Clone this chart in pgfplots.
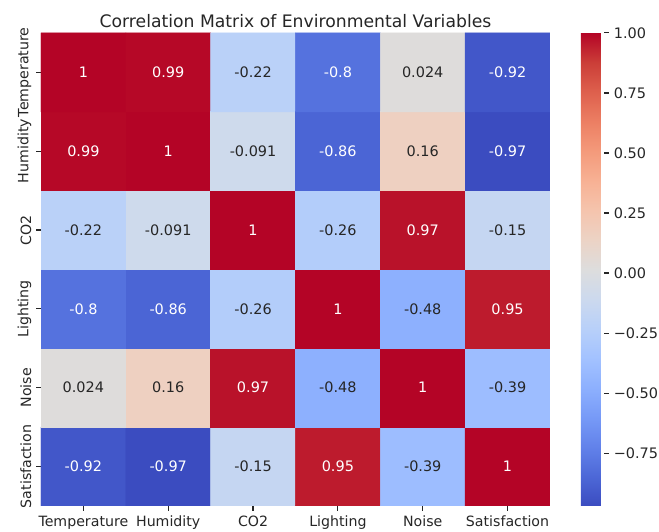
\documentclass[border=0pt]{standalone}
\usepackage{pgfplots}
\pgfplotsset{compat=1.18}
\usepackage{fontspec}
\setmainfont{DejaVu Sans}
\definecolor{darktext}{RGB}{38,38,38}
\pgfplotsset{colormap={coolwarm}{
 rgb255=(59,76,192) rgb255=(77,104,215) rgb255=(98,130,234) rgb255=(119,154,247)
 rgb255=(141,176,254) rgb255=(163,194,255) rgb255=(184,208,249) rgb255=(204,217,238)
 rgb255=(221,221,221) rgb255=(236,211,197) rgb255=(245,196,173) rgb255=(247,177,148)
 rgb255=(244,154,123) rgb255=(236,127,99) rgb255=(222,96,77) rgb255=(203,62,56)
 rgb255=(180,4,38)}}
\begin{document}
\begin{tikzpicture}
\useasboundingbox (0,0) rectangle (474.5pt,383pt);
\begin{axis}[
  at={(29.5pt,18.7pt)}, anchor=south west,
  scale only axis, width=366.5pt, height=340.6pt,
  xmin=-0.5, xmax=5.5, ymin=-0.5, ymax=5.5,
  colormap name=coolwarm,
  point meta min=-0.97, point meta max=1,
  axis line style={draw=none},
  xtick={0,1,2,3,4,5}, ytick={0,1,2,3,4,5},
  xticklabels={Temperature,Humidity,CO2,Lighting,Noise,Satisfaction},
  yticklabels={Satisfaction,Noise,Lighting,CO2,Humidity,Temperature},
  xtick pos=bottom, ytick pos=left,
  tick align=outside, major tick length=3.5pt,
  tick style={darktext, line width=0.8pt},
  ticklabel style={font=\fontsize{10.2}{12}\selectfont, text=darktext},
  yticklabel style={rotate=90, anchor=south},
  xticklabel style={anchor=north},
  title={Correlation Matrix of Environmental Variables},
  title style={font=\fontsize{12.4}{14}\selectfont, text=darktext, at={(0.5,1)}, anchor=south, yshift=-6pt},
  colorbar right,
  colorbar style={
    scale only axis,
    width=16.6pt,
    at={(parent axis.north east)}, anchor=north west, xshift=13.8pt,
    ytick={-0.75,-0.5,-0.25,0,0.25,0.5,0.75,1},
    yticklabels={−0.75,−0.50,−0.25,0.00,0.25,0.50,0.75,1.00},
    axis line style={draw=none},
    tick align=outside, ytick pos=right, yticklabel pos=right, major tick length=3.5pt,
    tick style={darktext, line width=0.8pt},
    yticklabel style={font=\fontsize{10.4}{12}\selectfont, text=darktext},
  },
]
\addplot[matrix plot*, mesh/cols=6, point meta=explicit] table[meta=v] {
x y v
0 0 -0.92
1 0 -0.97
2 0 -0.15
3 0 0.95
4 0 -0.39
5 0 1
0 1 0.024
1 1 0.16
2 1 0.97
3 1 -0.48
4 1 1
5 1 -0.39
0 2 -0.8
1 2 -0.86
2 2 -0.26
3 2 1
4 2 -0.48
5 2 0.95
0 3 -0.22
1 3 -0.091
2 3 1
3 3 -0.26
4 3 0.97
5 3 -0.15
0 4 0.99
1 4 1
2 4 -0.091
3 4 -0.86
4 4 0.16
5 4 -0.97
0 5 1
1 5 0.99
2 5 -0.22
3 5 -0.8
4 5 0.024
5 5 -0.92
};
% white annotations
\addplot[only marks, mark=*, mark size=0pt, mark options={draw=none,fill=none},
  point meta=explicit symbolic, nodes near coords,
  every node near coord/.append style={anchor=center, text=white, font=\fontsize{10.4}{12}\selectfont}]
  table[meta=lab] {
x y lab
0 5 1
1 5 0.99
3 5 -0.8
5 5 -0.92
0 4 0.99
1 4 1
3 4 -0.86
5 4 -0.97
2 3 1
4 3 0.97
0 2 -0.8
1 2 -0.86
3 2 1
5 2 0.95
2 1 0.97
4 1 1
0 0 -0.92
1 0 -0.97
3 0 0.95
5 0 1
};
% dark annotations
\addplot[only marks, mark=*, mark size=0pt, mark options={draw=none,fill=none},
  point meta=explicit symbolic, nodes near coords,
  every node near coord/.append style={anchor=center, text=darktext, font=\fontsize{10.4}{12}\selectfont}]
  table[meta=lab] {
x y lab
2 5 -0.22
4 5 0.024
2 4 -0.091
4 4 0.16
0 3 -0.22
1 3 -0.091
3 3 -0.26
5 3 -0.15
2 2 -0.26
4 2 -0.48
0 1 0.024
1 1 0.16
3 1 -0.48
5 1 -0.39
2 0 -0.15
4 0 -0.39
};
\end{axis}
\end{tikzpicture}
\end{document}
